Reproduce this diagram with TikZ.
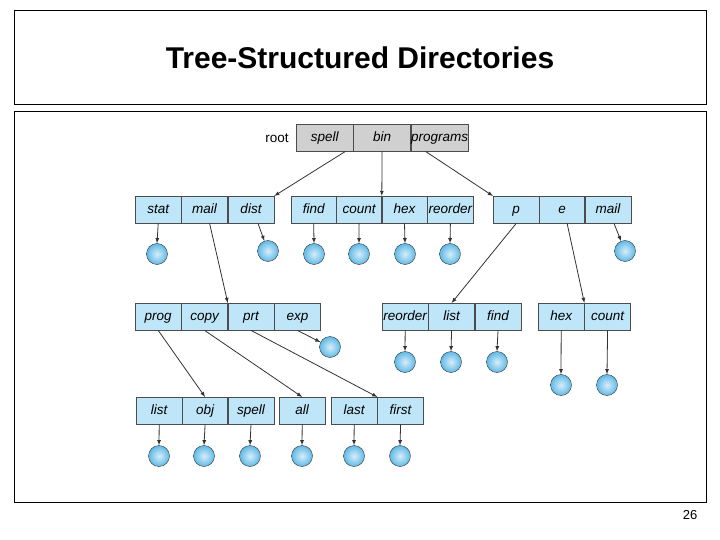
\documentclass[tikz,border=0pt]{standalone}
\usepackage{fontspec}
\setmainfont{Liberation Sans}
\usetikzlibrary{positioning}
\definecolor{cellblue}{RGB}{190,230,248}
\definecolor{cellgray}{RGB}{208,208,208}
\definecolor{ballblue}{RGB}{95,185,230}
\tikzset{
  cell/.style={draw=black!70, fill=cellblue, minimum width=46pt, minimum height=27pt,
    inner sep=0pt, text height=10pt, text depth=3pt, anchor=north west,
    font=\itshape\fontsize{13.5}{13.5}\selectfont},
  rcell/.style={cell, fill=cellgray, minimum width=57pt},
  file/.style={circle, draw=black!80, minimum size=21pt, inner sep=0pt,
    inner color=white!75!ballblue, outer color=ballblue},
  link/.style={->, >=latex, black!80, thick}
}
\begin{document}
\begin{tikzpicture}[x=1pt, y=-1pt]
\useasboundingbox (0,0) rectangle (720,540);
\draw[thin] (14,10) rectangle (706,104);
\node (title) at (360,58) {\fontsize{30}{30}\selectfont\bfseries Tree-Structured Directories};
\draw[thin] (14,111) rectangle (706,502);
\node (page) at (690,515) {\fontsize{13}{13}\selectfont 26};

% root directory
\node (root) at (277,138) {\fontsize{13.5}{13.5}\selectfont root};
\node[rcell] (spell) at (296,124) {spell};
\node[rcell, right=0pt of spell.north east, anchor=north west] (bin) {bin};
\node[rcell, right=0pt of bin.north east, anchor=north west] (programs) {programs};

% second level
\node[cell] (stat) at (135,196) {stat};
\node[cell, right=0pt of stat.north east, anchor=north west] (mail) {mail};
\node[cell, right=0pt of mail.north east, anchor=north west] (dist) {dist};
\node[cell, minimum width=45pt] (find) at (291,196) {find};
\node[cell, minimum width=45pt, right=0pt of find.north east, anchor=north west] (count) {count};
\node[cell, minimum width=45pt, right=0pt of count.north east, anchor=north west] (hex) {hex};
\node[cell, minimum width=46pt, right=0pt of hex.north east, anchor=north west] (reorder) {reorder};
\node[cell] (p) at (493,196) {p};
\node[cell, minimum width=45pt, right=0pt of p.north east, anchor=north west] (e) {e};
\node[cell, right=0pt of e.north east, anchor=north west] (mailb) {mail};

% third level
\node[cell] (prog) at (135,303) {prog};
\node[cell, right=0pt of prog.north east, anchor=north west] (copy) {copy};
\node[cell, right=0pt of copy.north east, anchor=north west] (prt) {prt};
\node[cell, right=0pt of prt.north east, anchor=north west] (exp) {exp};
\node[cell] (reorderb) at (382,303) {reorder};
\node[cell, right=0pt of reorderb.north east, anchor=north west] (list) {list};
\node[cell, right=0pt of list.north east, anchor=north west] (findb) {find};
\node[cell] (hexb) at (538,303) {hex};
\node[cell, right=0pt of hexb.north east, anchor=north west] (countb) {count};

% fourth level
\node[cell] (listb) at (136,397) {list};
\node[cell, minimum width=45pt, right=0pt of listb.north east, anchor=north west] (obj) {obj};
\node[cell, right=0pt of obj.north east, anchor=north west] (spellb) {spell};
\node[cell] (all) at (279,397) {all};
\node[cell] (last) at (331,397) {last};
\node[cell, right=0pt of last.north east, anchor=north west] (first) {first};

% files
\foreach \n/\x/\y in {fstat/157/254, fdist/268/251, ffind/314/254, fcount/359/254,
  fhex/405/254, freorder/450/254, fmail/625/251, fexp/330/347,
  freorderb/405/362, flist/451/362, ffindb/497/362, fhexb/561/385, fcountb/607/385,
  flistb/159/456, fobj/204/456, fspellb/250/456, fall/302/456, flast/354/456, ffirst/400/456}
  \node[file] (\n) at (\x,\y) {};

% links
\draw[link] (spell.south east) ++(-8,0) coordinate (s1) -- (dist.north east);
\draw[link] (bin.south) -- (count.north east);
\draw[link] (programs.south) ++(-14,0) coordinate (s2) -- (p.north west);
\draw[link] (mail.south) ++(5,0) coordinate (s3) -- (copy.north east);
\draw[link] (p.south) -- (list.north);
\draw[link] (e.south) ++(5,0) coordinate (s4) -- (countb.north west);
\draw[link] (prog.south) -- (obj.north);
\draw[link] (copy.south) -- (all.north);
\draw[link] (prt.south) -- (first.north west);
\draw[link] (exp.south) -- (fexp);
\foreach \a/\b in {stat/fstat, find/ffind, count/fcount, hex/fhex, reorder/freorder,
  reorderb/freorderb, list/flist, findb/ffindb, hexb/fhexb, countb/fcountb,
  listb/flistb, obj/fobj, spellb/fspellb, all/fall, last/flast, first/ffirst}
  \draw[link] (\a.south) -- (\b.north);
\draw[link] (dist.south) ++(7,0) coordinate (s5) -- (fdist);
\draw[link] (mailb.south) ++(6,0) coordinate (s6) -- (fmail);
\end{tikzpicture}
\end{document}
